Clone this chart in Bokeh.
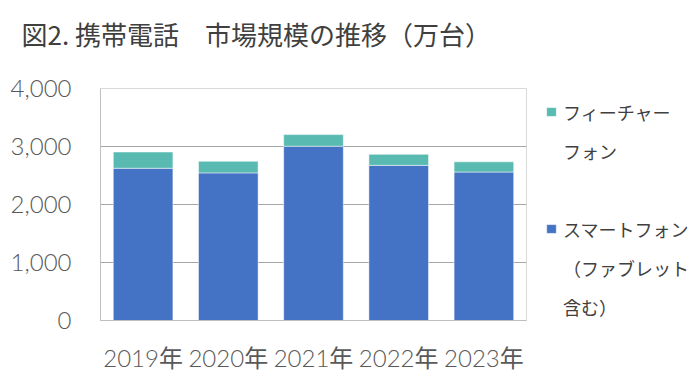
from bokeh.plotting import figure
from bokeh.layouts import row
from bokeh.models import (ColumnDataSource, FactorRange, Range1d, FixedTicker,
                          NumeralTickFormatter, Legend, LegendItem, Title)
from bokeh.embed import file_html
from bokeh.resources import INLINE

# ---- data ----
years = ["2019年", "2020年", "2021年", "2022年", "2023年"]
smartphone = [2625, 2545, 3005, 2675, 2560]
feature_phone = [280, 200, 200, 190, 175]
y_ticks = [0, 1000, 2000, 3000, 4000]
title_text = "図2. 携帯電話\u3000市場規模の推移（万台）"
legend_feature = ["フィーチャー", "フォン"]
legend_smart = ["スマートフォン", "（ファブレット", "含む）"]

BLUE = "#4472C4"
TEAL = "#58BAB1"
TEXT = "#404040"
TICK = "#595959"
CJK = "Noto Sans CJK JP"
NUM = "'Lato Light', Lato, 'Noto Sans CJK JP'"

source = ColumnDataSource(dict(year=years, smart=smartphone, feature=feature_phone))

# ---- main chart ----
p = figure(x_range=FactorRange(*years), y_range=Range1d(0, 4000),
           width=530, height=390, output_backend="svg", toolbar_location=None,
           min_border_left=100, min_border_right=4, min_border_top=88,
           min_border_bottom=70)
p.background_fill_color = "white"
p.border_fill_color = "white"
p.outline_line_color = "#d9d9d9"

rs = p.vbar_stack(["smart", "feature"], x="year", width=0.70, source=source,
                  color=[BLUE, TEAL], line_color="white", line_alpha=0.5,
                  line_width=1)

p.title.text = title_text
p.title.align = "left"
p.title.offset = -79
p.title.standoff = 10
p.title.text_font = CJK
p.title.text_font_size = "26px"
p.title.text_font_style = "normal"
p.title.text_color = TEXT
# spacer between title and plot area
p.add_layout(Title(text=" ", text_font_size="10px", standoff=19), "above")

p.yaxis.ticker = FixedTicker(ticks=y_ticks)
p.yaxis.formatter = NumeralTickFormatter(format="0,0")
for ax in (p.xaxis[0], p.yaxis[0]):
    ax.major_tick_out = 0
    ax.major_tick_in = 0
    ax.minor_tick_out = 0
    ax.minor_tick_in = 0
    ax.axis_line_color = "#bfbfbf"
    ax.major_label_text_font = NUM
    ax.major_label_text_font_size = "24px"
    ax.major_label_text_color = TICK
p.yaxis.major_label_standoff = 29
p.xaxis.major_label_standoff = 22
p.xgrid.grid_line_color = None
p.ygrid.grid_line_color = "#a6a6a6"
p.ygrid.ticker = FixedTicker(ticks=y_ticks)

# ---- legend panel (hidden swatch renderers, legend only) ----
q = figure(x_range=FactorRange(*years), y_range=Range1d(-2, -1),
           width=170, height=390, output_backend="svg", toolbar_location=None,
           min_border_left=0, min_border_right=0, min_border_top=88,
           min_border_bottom=70)
q.axis.visible = False
q.grid.grid_line_color = None
q.outline_line_color = None
q.background_fill_color = "white"
q.border_fill_color = "white"
qs = q.vbar_stack(["smart", "feature"], x="year", width=0.70, source=source,
                  color=[BLUE, TEAL], line_color="white", line_alpha=0.5,
                  line_width=1)
for r in qs:
    r.visible = False

items = [LegendItem(label=legend_feature[0], renderers=[qs[1]]),
         LegendItem(label=legend_feature[1], renderers=[]),
         LegendItem(label=" ", renderers=[]),
         LegendItem(label=legend_smart[0], renderers=[qs[0]]),
         LegendItem(label=legend_smart[1], renderers=[]),
         LegendItem(label=legend_smart[2], renderers=[])]
legend = Legend(items=items, location=(15, -6), glyph_width=12, glyph_height=11,
                spacing=0, padding=0, margin=0, label_standoff=6,
                label_height=39, label_text_font=CJK, label_text_font_size="18px",
                label_text_color=TEXT, border_line_color=None,
                background_fill_alpha=0, inactive_fill_alpha=0)
q.add_layout(legend)

layout = row(p, q, spacing=0)
open("out.html", "w").write(file_html(layout, INLINE))
